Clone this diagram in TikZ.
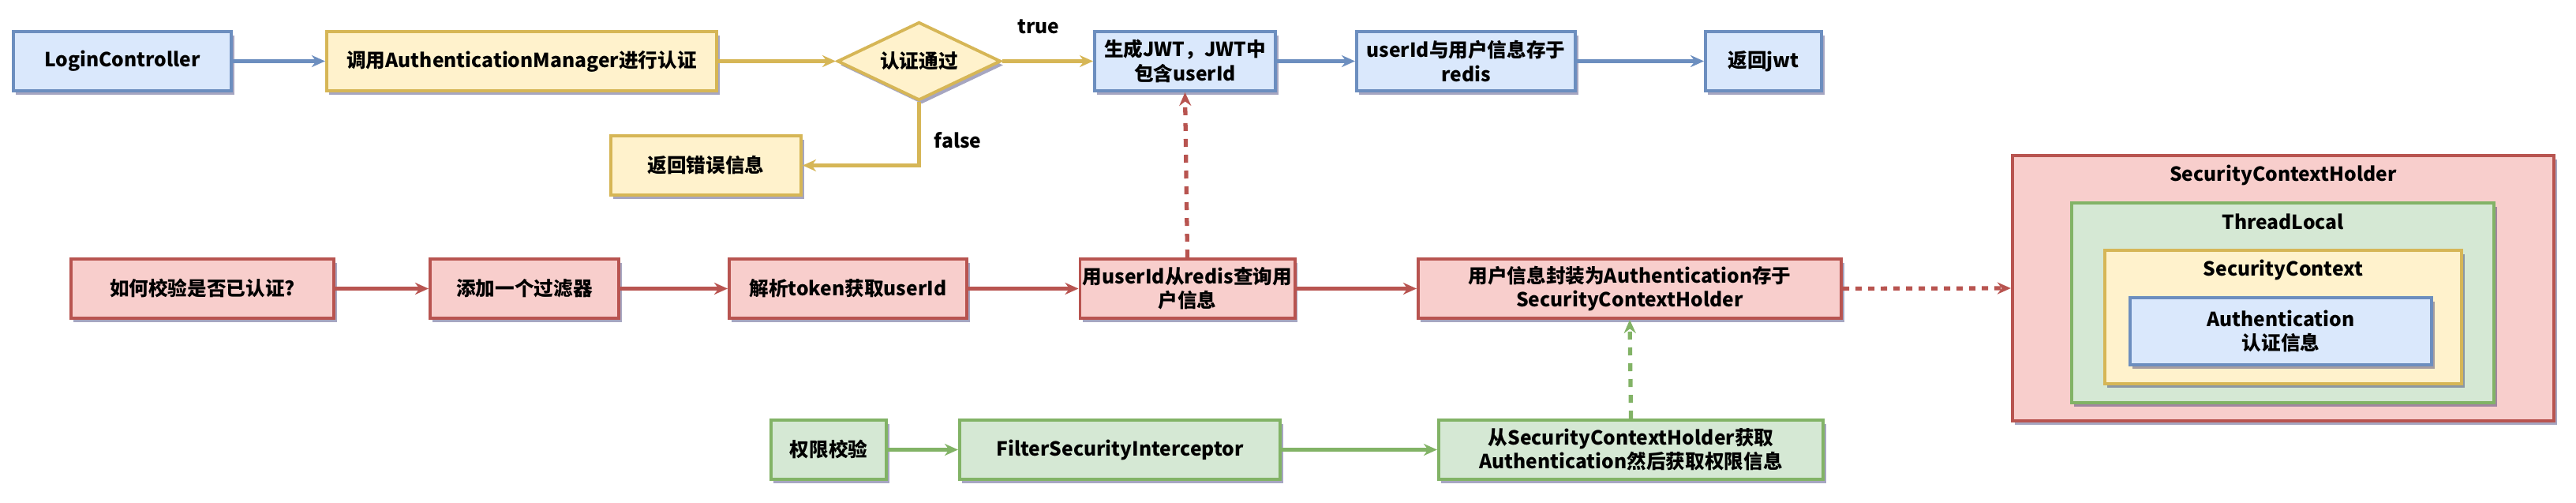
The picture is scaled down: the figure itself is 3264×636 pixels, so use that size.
\documentclass[tikz,border=0pt]{standalone}
\usepackage{fontspec}
\setmainfont{Noto Sans CJK SC}
\usetikzlibrary{arrows.meta,shapes.geometric,shadows}
\definecolor{blueFill}{HTML}{DAE8FC}
\definecolor{blueLine}{HTML}{6C8EBF}
\definecolor{yellowFill}{HTML}{FFF2CC}
\definecolor{yellowLine}{HTML}{D6B656}
\definecolor{redFill}{HTML}{F8CECC}
\definecolor{redLine}{HTML}{B85450}
\definecolor{greenFill}{HTML}{D5E8D4}
\definecolor{greenLine}{HTML}{82B366}
\begin{document}
\begin{tikzpicture}[x=0.01cm,y=-0.01cm,
	box/.style={draw, line width=1.1pt, minimum height=0.75cm, inner sep=1pt, align=center,
		font=\fontsize{7}{8.6}\selectfont\bfseries,
		drop shadow={shadow xshift=0.035cm, shadow yshift=-0.05cm, fill=black!70!blue, opacity=0.35}},
	blueBox/.style={box, fill=blueFill, draw=blueLine},
	yellowBox/.style={box, fill=yellowFill, draw=yellowLine},
	redBox/.style={box, fill=redFill, draw=redLine},
	greenBox/.style={box, fill=greenFill, draw=greenLine},
	lbl/.style={font=\fontsize{7}{8.6}\selectfont\bfseries},
	flow/.style={line width=1.5pt, -{Stealth[length=0.17cm,width=0.15cm]}},
	blueArrow/.style={flow, draw=blueLine},
	yellowArrow/.style={flow, draw=yellowLine},
	redArrow/.style={flow, draw=redLine},
	greenArrow/.style={flow, draw=greenLine}]
	\useasboundingbox (0,0) rectangle (3264,636);
	\node[blueBox, minimum width=2.76cm] (login) at (155,77.5) {LoginController};
	\node[yellowBox, minimum width=4.94cm] (auth) at (661,77.5) {调用AuthenticationManager进行认证};
	\node[yellowBox, diamond, aspect=2.1, minimum width=2.07cm, minimum height=0.99cm, inner sep=0pt] (check) at (1164.5,77.5) {认证通过};
	\node[blueBox, minimum width=2.29cm] (jwt) at (1501.5,77.5) {生成JWT，JWT中\\包含userId};
	\node[blueBox, minimum width=2.77cm] (redis) at (1857.5,77.5) {userId与用户信息存于\\redis};
	\node[blueBox, minimum width=1.47cm] (retjwt) at (2234.5,77.5) {返回jwt};
	\node[yellowBox, minimum width=2.41cm] (err) at (894.5,209.5) {返回错误信息};
	\node[redBox, minimum width=3.33cm] (how) at (256.5,365.5) {如何校验是否已认证?};
	\node[redBox, minimum width=2.39cm] (filter) at (664.5,365.5) {添加一个过滤器};
	\node[redBox, minimum width=3.01cm] (parse) at (1074.5,365.5) {解析token获取userId};
	\node[redBox, minimum width=2.71cm] (query) at (1504.5,365.5) {用userId从redis查询用\\户信息};
	\node[redBox, minimum width=5.36cm] (wrap) at (2065,365.5) {用户信息封装为Authentication存于\\SecurityContextHolder};
	\node[greenBox, minimum width=1.46cm] (perm) at (1050,569.5) {权限校验};
	\node[greenBox, minimum width=4.06cm] (fsi) at (1419,569.5) {FilterSecurityInterceptor};
	\node[greenBox, minimum width=4.87cm] (getauth) at (2066.5,569.5) {从SecurityContextHolder获取\\Authentication然后获取权限信息};
	\node[redBox, minimum width=6.86cm, minimum height=3.36cm] (holder) at (2893,365) {};
	\node[greenBox, minimum width=5.35cm, minimum height=2.53cm] (tl) at (2892.5,383.5) {};
	\node[yellowBox, minimum width=4.52cm, minimum height=1.69cm] (sc) at (2893,401.5) {};
	\node[blueBox, minimum width=3.82cm, minimum height=0.85cm] (authn) at (2890,419.5) {Authentication\\认证信息};
	\node[lbl] (holderlbl) at (2893,222) {SecurityContextHolder};
	\node[lbl] (tllbl) at (2892.5,281) {ThreadLocal};
	\node[lbl] (sclbl) at (2893,342) {SecurityContext};
	\draw[blueArrow] (login) -- (auth);
	\draw[yellowArrow] (auth) -- (check);
	\draw[yellowArrow] (check) -- (jwt) node[lbl, pos=0.4, above=0.2cm] {true};
	\draw[yellowArrow] (check.south) |- (err.east) node[lbl, pos=0.3, right=0.05cm] {false};
	\draw[blueArrow] (jwt) -- (redis);
	\draw[blueArrow] (redis) -- (retjwt);
	\draw[redArrow] (how) -- (filter);
	\draw[redArrow] (filter) -- (parse);
	\draw[redArrow] (parse) -- (query);
	\draw[redArrow] (query) -- (wrap);
	\draw[redArrow, dash pattern=on 0.1cm off 0.1cm] (query.north) -- (jwt.south);
	\draw[redArrow, dash pattern=on 0.08cm off 0.08cm] (wrap.east) -- (holder.west);
	\draw[greenArrow] (perm) -- (fsi);
	\draw[greenArrow] (fsi) -- (getauth);
	\draw[greenArrow, dash pattern=on 0.1cm off 0.1cm] (getauth.north) -- (wrap.south);
\end{tikzpicture}
\end{document}
